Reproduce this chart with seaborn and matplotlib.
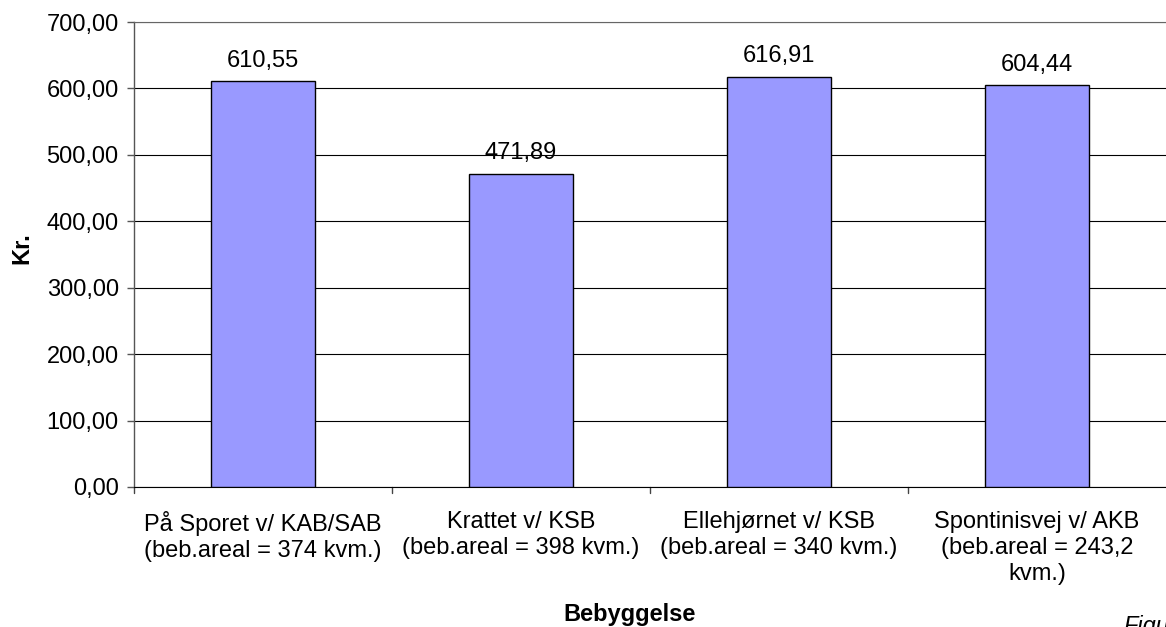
import matplotlib
matplotlib.use("Agg")
import matplotlib.pyplot as plt
import seaborn as sns
import pandas as pd

categories = [
    "På Sporet v/ KAB/SAB\n(beb.areal = 374 kvm.)",
    "Krattet v/ KSB\n(beb.areal = 398 kvm.)",
    "Ellehjørnet v/ KSB\n(beb.areal = 340 kvm.)",
    "Spontinisvej v/ AKB\n(beb.areal = 243,2\nkvm.)",
]
values = [610.55, 471.89, 616.91, 604.44]
value_labels = ["610,55", "471,89", "616,91", "604,44"]
yticks = [0, 100, 200, 300, 400, 500, 600, 700]
ytick_labels = ["0,00", "100,00", "200,00", "300,00", "400,00", "500,00", "600,00", "700,00"]

sns.set_style("white")
plt.rcParams['font.family'] = ['Liberation Sans', 'DejaVu Sans']
plt.rcParams['text.color'] = 'black'
plt.rcParams['xtick.color'] = 'black'
plt.rcParams['ytick.color'] = 'black'
plt.rcParams['axes.labelcolor'] = 'black'

FS = 17
df = pd.DataFrame({"cat": categories, "val": values})

fig = plt.figure(figsize=(11.66, 6.27), dpi=100)
ax = fig.add_axes([134/1166, 1-487/627, (1166-134)/1166, (487-22)/627])

sns.barplot(data=df, x="cat", y="val", ax=ax, color="#9999FF", saturation=1,
            width=0.405, edgecolor="black", linewidth=1.0, zorder=3)

ax.set_ylim(0, 700)
ax.set_xlim(-0.5, 3.5)
ax.set_yticks(yticks)
ax.set_yticklabels(ytick_labels, fontsize=FS)
ax.yaxis.grid(True, color="black", linewidth=0.8, zorder=0)
ax.set_axisbelow(True)

ax.set_xticks([0, 1, 2, 3])
ax.set_xticklabels(categories, fontsize=FS, linespacing=1.25)
ax.tick_params(axis="x", length=0, pad=17)
for b in [-0.5, 0.5, 1.5, 2.5]:
    ax.plot([b, b], [0, -0.013], transform=ax.get_xaxis_transform(),
            color="#444444", linewidth=1.0, clip_on=False)
ax.tick_params(axis="y", length=5, labelcolor="black", color="#555555", width=1.0,
               left=True, pad=6)

ax.spines["right"].set_visible(False)
ax.spines["top"].set_color("#666666")
ax.spines["left"].set_color("#555555")
ax.spines["left"].set_linewidth(1.0)
ax.spines["bottom"].set_color("black")

for i, (v, lab) in enumerate(zip(values, value_labels)):
    ax.annotate(lab, (i, v), xytext=(0, 7), textcoords="offset points",
                ha="center", va="bottom", fontsize=FS)

ax.set_xlabel("")
ax.set_ylabel("")
fig.text(22/1166, 1-248/627, "Kr.", ha="center", va="center", rotation=90,
         fontsize=FS, fontweight="bold")
fig.text(630/1166, 1-614/627, "Bebyggelse", ha="center", va="center",
         fontsize=FS, fontweight="bold")
fig.text(1123/1166, 1-615/627, "Figur", ha="left", va="top",
         fontsize=FS, style="italic")

fig.savefig("out.png", dpi=100)
